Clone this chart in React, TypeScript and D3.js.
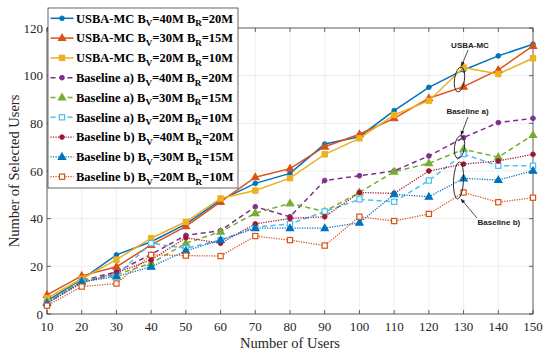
import React from 'react';
import * as d3 from 'd3';

const users = [10, 20, 30, 40, 50, 60, 70, 80, 90, 100, 110, 120, 130, 140, 150];
const xTicks = [10, 20, 30, 40, 50, 60, 70, 80, 90, 100, 110, 120, 130, 140, 150];
const yTicks = [0, 20, 40, 60, 80, 100, 120];

const usbaV40 = [5.5, 14.5, 24.8, 30.3, 37.7, 47.8, 54.8, 59, 71.3, 74.4, 85.3, 95.1, 102.4, 108.3, 113.2];
const usbaV30 = [8, 16, 19.8, 29, 36.8, 47, 57.4, 61, 70.2, 75.4, 82.1, 90.5, 95.4, 102.4, 112.5];
const usbaV20 = [6.6, 14.8, 22.8, 31.8, 38.7, 48.5, 51.8, 57, 67, 73.7, 83.5, 89.5, 103.4, 100.7, 107.3];
const baseAV40 = [5, 14, 17.7, 25, 33, 35, 45, 40.8, 56, 58, 60, 66.3, 74, 80.3, 82.1];
const baseAV30 = [5, 14, 16.5, 21.3, 29.7, 34.5, 42.3, 46.4, 43, 51, 59.7, 63.2, 69.1, 65.8, 75.1];
const baseAV20 = [4.5, 13.5, 16.2, 29.7, 27.6, 31, 36.5, 37.8, 43, 48.1, 47.1, 56, 67.1, 62.2, 62.2];
const baseBV40 = [4.5, 13, 17.3, 22.7, 32, 29.7, 37.8, 40.1, 40.8, 51, 50.6, 60, 62.9, 64.2, 67];
const baseBV30 = [4.5, 13.5, 15.7, 19.8, 26.5, 31, 36, 36, 36, 38.3, 50.2, 49.2, 56.9, 56.2, 60.1];
const baseBV20 = [3.5, 11.5, 12.8, 24.8, 24.5, 24.3, 32.7, 31, 28.7, 40.8, 39, 42, 51, 46.9, 48.8];

const legendPrefix = ['USBA-MC', 'USBA-MC', 'USBA-MC', 'Baseline a)', 'Baseline a)', 'Baseline a)', 'Baseline b)', 'Baseline b)', 'Baseline b)'];
const legendBV = ['40M', '30M', '20M', '40M', '30M', '20M', '40M', '30M', '20M'];
const legendBR = ['20M', '15M', '10M', '20M', '15M', '10M', '20M', '15M', '10M'];

type Marker = 'circle' | 'triangle' | 'square';
interface Series { values: number[]; color: string; dash: string | null; marker: Marker; hollow: boolean; width: number; }

const series: Series[] = [
  { values: usbaV40, color: '#0072BD', dash: null, marker: 'circle', hollow: false, width: 1.5 },
  { values: usbaV30, color: '#D95319', dash: null, marker: 'triangle', hollow: false, width: 1.5 },
  { values: usbaV20, color: '#EDB120', dash: null, marker: 'square', hollow: false, width: 1.5 },
  { values: baseAV40, color: '#7E2F8E', dash: '5,3.5', marker: 'circle', hollow: false, width: 1.5 },
  { values: baseAV30, color: '#77AC30', dash: '5,3.5', marker: 'triangle', hollow: false, width: 1.5 },
  { values: baseAV20, color: '#4DBEEE', dash: '5,3.5', marker: 'square', hollow: true, width: 1.5 },
  { values: baseBV40, color: '#A2142F', dash: '1.2,1.3', marker: 'circle', hollow: false, width: 1.3 },
  { values: baseBV30, color: '#0072BD', dash: '1.2,1.3', marker: 'triangle', hollow: false, width: 1.3 },
  { values: baseBV20, color: '#D95319', dash: '1.2,1.3', marker: 'square', hollow: true, width: 1.3 },
];

function MarkerShape({ m, cx, cy, color, hollow }: { m: Marker; cx: number; cy: number; color: string; hollow: boolean }) {
  const fill = hollow ? '#fff' : color;
  if (m === 'circle') return <circle cx={cx} cy={cy} r={2.4} fill={color} stroke={color} strokeWidth={0.8} />;
  if (m === 'triangle') {
    const p = `${cx},${cy - 3.8} ${cx - 3.6},${cy + 2.4} ${cx + 3.6},${cy + 2.4}`;
    return <polygon points={p} fill={fill} stroke={color} strokeWidth={1.2} />;
  }
  return <rect x={cx - 2.6} y={cy - 2.6} width={5.2} height={5.2} fill={fill} stroke={color} strokeWidth={1.2} />;
}

export default function App() {
  const x = d3.scaleLinear().domain([10, 150]).range([47, 533]);
  const y = d3.scaleLinear().domain([0, 120]).range([314, 28]);
  const line = d3.line<number>().x((_, i) => x(users[i])).y((d) => y(d));
  const [x0, x1] = x.range();
  const [y0, y1] = y.range();
  const serif = '"Liberation Serif", "Times New Roman", serif';
  const sans = '"Liberation Sans", Arial, sans-serif';
  const axisColor = '#262626';

  const legX = 48, legY = 8, legW = 190, legH = 180, rowStart = 18.3, rowStep = 19.8;

  return (
    <svg width={550} height={356} style={{ position: 'absolute', left: 0, top: 0, background: '#fff' }}>
      <rect x={0} y={0} width={550} height={356} fill="#fff" />
      {/* grid */}
      {xTicks.map((t) => (
        <line key={'gx' + t} x1={x(t)} x2={x(t)} y1={y1} y2={y0} stroke="#e3e3e3" strokeWidth={0.6} />
      ))}
      {yTicks.map((t) => (
        <line key={'gy' + t} x1={x0} x2={x1} y1={y(t)} y2={y(t)} stroke="#e3e3e3" strokeWidth={0.6} />
      ))}
      {/* box */}
      <rect x={x0} y={y1} width={x1 - x0} height={y0 - y1} fill="none" stroke={axisColor} strokeWidth={0.7} />
      {/* ticks */}
      {xTicks.map((t) => (
        <g key={'tx' + t}>
          <line x1={x(t)} x2={x(t)} y1={y0} y2={y0 - 4} stroke={axisColor} strokeWidth={0.7} />
          <line x1={x(t)} x2={x(t)} y1={y1} y2={y1 + 4} stroke={axisColor} strokeWidth={0.7} />
          <text x={x(t)} y={y0 + 17} textAnchor="middle" fontFamily={serif} fontSize={13} fill={axisColor}>{t}</text>
        </g>
      ))}
      {yTicks.map((t) => (
        <g key={'ty' + t}>
          <line x1={x0} x2={x0 + 4} y1={y(t)} y2={y(t)} stroke={axisColor} strokeWidth={0.7} />
          <line x1={x1} x2={x1 - 4} y1={y(t)} y2={y(t)} stroke={axisColor} strokeWidth={0.7} />
          <text x={x0 - 4} y={y(t) + 4.5} textAnchor="end" fontFamily={serif} fontSize={13} fill={axisColor}>{t}</text>
        </g>
      ))}
      {/* axis labels */}
      <text x={(x0 + x1) / 2} y={348} textAnchor="middle" fontFamily={serif} fontSize={14.5} fill={axisColor}>Number of Users</text>
      <text transform={`translate(19,${(y0 + y1) / 2}) rotate(-90)`} textAnchor="middle" fontFamily={serif} fontSize={14.5} fill={axisColor}>Number of Selected Users</text>

      {/* series lines */}
      {series.map((s, i) => (
        <path key={'l' + i} d={line(s.values) || ''} fill="none" stroke={s.color} strokeWidth={s.width} strokeDasharray={s.dash || undefined} />
      ))}
      {series.map((s, i) => (
        <g key={'m' + i}>
          {s.values.map((v, j) => (
            <MarkerShape key={j} m={s.marker} cx={x(users[j])} cy={y(v)} color={s.color} hollow={s.hollow} />
          ))}
        </g>
      ))}

      {/* annotations */}
      <defs>
        <marker id="arr" viewBox="0 0 10 10" refX={9} refY={5} markerWidth={6} markerHeight={6} orient="auto">
          <path d="M0,1 L10,5 L0,9 z" fill="#222" />
        </marker>
      </defs>
      <ellipse cx={459.5} cy={79.5} rx={5} ry={12.5} fill="none" stroke="#222" strokeWidth={0.9} transform="rotate(8 459.5 79.5)" />
      <line x1={468} x2={461.5} y1={50} y2={66} stroke="#222" strokeWidth={0.8} markerEnd="url(#arr)" />
      <text x={470} y={47.5} textAnchor="middle" fontFamily={sans} fontSize={8} fontWeight="bold" fill="#222">USBA-MC</text>

      <ellipse cx={459.5} cy={147} rx={5} ry={11.5} fill="none" stroke="#222" strokeWidth={0.9} transform="rotate(8 459.5 147)" />
      <line x1={468} x2={461} y1={117} y2={135} stroke="#222" strokeWidth={0.8} markerEnd="url(#arr)" />
      <text x={467.5} y={114} textAnchor="middle" fontFamily={sans} fontSize={8} fontWeight="bold" fill="#222">Baseline a)</text>

      <ellipse cx={458.5} cy={180.5} rx={5} ry={18.5} fill="none" stroke="#222" strokeWidth={0.9} transform="rotate(3 458.5 180.5)" />
      <line x1={477} x2={461} y1={218} y2={199} stroke="#222" strokeWidth={0.8} markerEnd="url(#arr)" />
      <text x={477.5} y={225} textAnchor="start" fontFamily={sans} fontSize={8} fontWeight="bold" fill="#222">Baseline b)</text>

      {/* legend */}
      <rect x={legX} y={legY} width={legW} height={legH} fill="#fff" stroke={axisColor} strokeWidth={0.7} />
      {series.map((s, i) => {
        const cy = rowStart + i * rowStep;
        return (
          <g key={'lg' + i}>
            <line x1={50.5} x2={73.5} y1={cy} y2={cy} stroke={s.color} strokeWidth={s.width} strokeDasharray={s.dash || undefined} />
            <MarkerShape m={s.marker} cx={62} cy={cy} color={s.color} hollow={s.hollow} />
            <text x={76} y={cy + 4.3} fontFamily={serif} fontSize={12.5} fontWeight="bold" fill="#000">
              {legendPrefix[i]} B<tspan fontSize={9} dy={3.5}>V</tspan>
              <tspan dy={-3.5}>={legendBV[i]} B</tspan>
              <tspan fontSize={9} dy={3.5}>R</tspan>
              <tspan dy={-3.5}>={legendBR[i]}</tspan>
            </text>
          </g>
        );
      })}
    </svg>
  );
}
